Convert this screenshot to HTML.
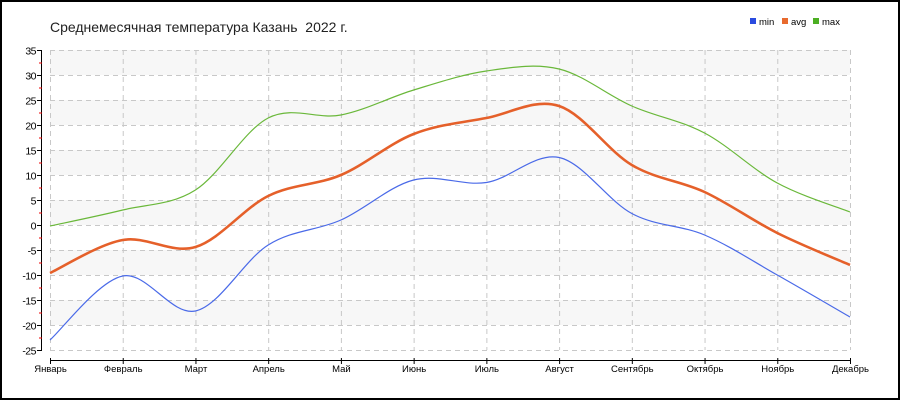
<!DOCTYPE html>
<html><head><meta charset="utf-8"><style>
html,body{margin:0;padding:0;background:#fff}
#w{width:896px;height:396px;border:2px solid #000;position:relative;overflow:hidden}
svg{position:absolute;left:-2px;top:-2px}
text{font-family:"Liberation Sans","DejaVu Sans",sans-serif}
</style></head><body><div id="w"><svg id="s" width="900" height="400" xmlns="http://www.w3.org/2000/svg"></svg></div>
<script>
const s=document.getElementById('s');
const X0=50,X1=850,Y=v=>225-v*5;
const mx=i=>X0+i*(X1-X0)/11;
let h='';
for(let v=35;v>-25;v-=10){h+=`<rect x="${X0}" y="${Y(v)}" width="${X1-X0}" height="25" fill="#f7f7f7"/>`;}
for(let v=35;v>=-25;v-=5){h+=`<line x1="${X0}" x2="${X1}" y1="${Y(v)+.5}" y2="${Y(v)+.5}" stroke="#c8c8c8" stroke-dasharray="5,4"/>`;}
for(let i=0;i<12;i++){h+=`<line x1="${mx(i)+.5}" x2="${mx(i)+.5}" y1="50" y2="350" stroke="#c8c8c8" stroke-dasharray="5,4"/>`;}
h+=`<line x1="41.5" x2="41.5" y1="50" y2="350" stroke="#000"/>`;
for(let v=35;v>=-25;v-=5){const y=Y(v)+.5;h+=`<line x1="37" x2="42" y1="${y}" y2="${y}" stroke="#000"/><text x="36" y="${y+4}" font-size="10.5" text-anchor="end" letter-spacing="-0.5">${v}</text>`;
 if(v>-25)h+=`<line x1="39" x2="42" y1="${y+12.5}" y2="${y+12.5}" stroke="#e00"/>`;}
h+=`<line x1="${X0}" x2="${X1}" y1="360.5" y2="360.5" stroke="#000"/>`;
const M=['Январь','Февраль','Март','Апрель','Май','Июнь','Июль','Август','Сентябрь','Октябрь','Ноябрь','Декабрь'];
M.forEach((m,i)=>{const x=mx(i)+.5;h+=`<line x1="${x}" x2="${x}" y1="358" y2="364" stroke="#000"/><text x="${x}" y="372" font-size="9.5" text-anchor="middle">${m}</text>`;});
h+=`<text x="50" y="32" font-size="14" fill="#222">Среднемесячная температура Казань&#160; 2022 г.</text>`;
[['min','#2a4be0',750],['avg','#e86a2e',782],['max','#4caf22',813]].forEach(([n,c,x])=>{h+=`<rect x="${x}" y="18" width="6" height="6" fill="${c}"/><text x="${x+9}" y="25" font-size="9.5">${n}</text>`;});
function path(d){const p=d.map((v,i)=>[mx(i),Y(v)]);let str=`M${p[0][0]},${p[0][1]}`;
 for(let i=0;i<p.length-1;i++){const a=p[Math.max(0,i-1)],b=p[i],c=p[i+1],e=p[Math.min(p.length-1,i+2)];const t=6;
 str+=` C${b[0]+(c[0]-a[0])/t},${b[1]+(c[1]-a[1])/t} ${c[0]-(e[0]-b[0])/t},${c[1]-(e[1]-b[1])/t} ${c[0]},${c[1]}`;}return str;}
const mn=[-23,-10.2,-17.2,-4,1,9,8.5,13.5,2.3,-2,-10,-18.4];
const av=[-9.6,-3,-4.4,5.8,10,18.2,21.4,23.8,12,6.6,-1.6,-8];
const mxx=[-0.2,3,7,21.4,22,27,30.8,31.2,23.8,18.4,8.4,2.6];
h+=`<path d="${path(mn)}" fill="none" stroke="#4a6ae8" stroke-width="1.2"/>`;
h+=`<path d="${path(mxx)}" fill="none" stroke="#6ab83a" stroke-width="1.2"/>`;
h+=`<path d="${path(av)}" fill="none" stroke="#e5602a" stroke-width="2.6"/>`;
s.innerHTML=h;
</script></body></html>
